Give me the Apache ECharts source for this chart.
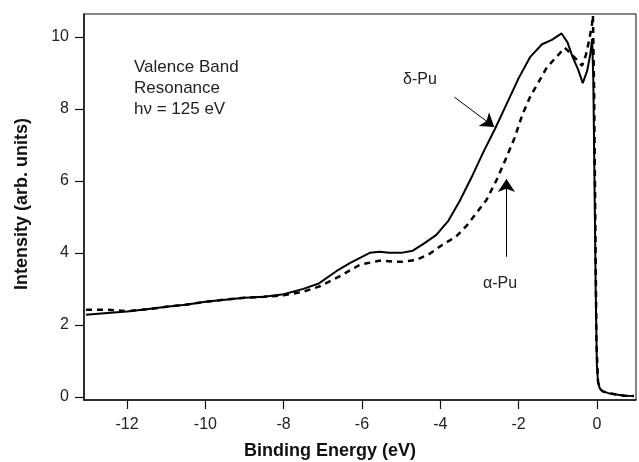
<!DOCTYPE html>
<html>
<head>
<meta charset="utf-8">
<script src="https://cdn.jsdelivr.net/npm/echarts@6/dist/echarts.min.js"></script>
<style>
  html, body { margin: 0; padding: 0; background: #fff; }
  #chart { width: 639px; height: 462px; }
</style>
</head>
<body>
<div id="chart"></div>
<script>
  // 能量 (eV) 和 强度 (arb. units)
  var deltaE = [-13.05, -12.5, -12, -11.5, -11, -10.5, -10, -9.5, -9, -8.5, -8, -7.5, -7.1, -6.6, -6.3, -6.0, -5.8, -5.55, -5.3, -5.0, -4.7, -4.4, -4.1, -3.8, -3.5, -3.2, -2.9, -2.6, -2.3, -2.0, -1.7, -1.4, -1.15, -0.9, -0.75, -0.62, -0.48, -0.36, -0.25, -0.17, -0.12, -0.09, -0.06, -0.03, 0.0, 0.03, 0.08, 0.15, 0.3, 0.5, 0.7, 0.95];
  var deltaI = [2.28, 2.33, 2.37, 2.43, 2.5, 2.56, 2.64, 2.7, 2.75, 2.78, 2.85, 3.0, 3.15, 3.53, 3.72, 3.89, 4.0, 4.03, 4.0, 4.0, 4.06, 4.27, 4.5, 4.88, 5.45, 6.1, 6.8, 7.45, 8.15, 8.85, 9.45, 9.8, 9.92, 10.1, 9.85, 9.45, 9.1, 8.72, 9.05, 9.5, 9.95, 8.8, 6.0, 3.0, 0.9, 0.4, 0.22, 0.15, 0.1, 0.06, 0.03, 0.02];

  var alphaE = [-13.05, -12.5, -12, -11.5, -11, -10.5, -10, -9.5, -9, -8.5, -8, -7.5, -7.1, -6.6, -6.05, -5.56, -5.0, -4.62, -4.28, -3.95, -3.6, -3.33, -3.08, -2.82, -2.56, -2.31, -2.1, -1.9, -1.7, -1.46, -1.28, -1.03, -0.82, -0.67, -0.5, -0.38, -0.28, -0.2, -0.13, -0.1, -0.07, -0.04, -0.01, 0.03, 0.08, 0.15, 0.3, 0.5, 0.7, 0.95];
  var alphaI = [2.42, 2.42, 2.38, 2.43, 2.5, 2.56, 2.64, 2.7, 2.75, 2.78, 2.82, 2.92, 3.06, 3.33, 3.67, 3.78, 3.75, 3.8, 3.97, 4.22, 4.45, 4.75, 5.1, 5.47, 6.03, 6.65, 7.2, 7.85, 8.35, 8.8, 9.15, 9.45, 9.7, 9.55, 9.35, 9.2, 9.5, 9.9, 10.3, 10.6, 8.5, 5.0, 1.5, 0.42, 0.22, 0.15, 0.1, 0.06, 0.03, 0.02];

  var xTicks = [-12, -10, -8, -6, -4, -2, 0];
  var yTicks = [0, 2, 4, 6, 8, 10];

  // 箭头 (数据坐标)
  var deltaArrow = [[-3.64, 8.33], [-2.62, 7.5]];
  var alphaArrow = [[-2.31, 3.89], [-2.31, 6.05]];

  function pairs(xs, ys) {
    return xs.map(function (x, i) { return [x, ys[i]]; });
  }

  var font = '"Liberation Sans", Arial, Helvetica, sans-serif';
  var myChart = echarts.init(document.getElementById('chart'));

  var option = {
    backgroundColor: '#fff',
    animation: false,
    grid: {
      left: 84, right: 3, top: 14, bottom: 62,
      show: true, borderColor: '#111', borderWidth: 1
    },
    xAxis: {
      type: 'value',
      min: -13.1,
      max: 1.0,
      axisLine: { show: true, onZero: false, lineStyle: { color: '#111', width: 1.5 } },
      axisTick: { show: true, inside: false, length: 9, customValues: xTicks, lineStyle: { color: '#111', width: 1.2 } },
      axisLabel: { customValues: xTicks, fontSize: 16, color: '#222', fontFamily: font, margin: 17 },
      splitLine: { show: false }
    },
    yAxis: {
      type: 'value',
      min: -0.09,
      max: 10.64,
      axisLine: { show: true, onZero: false, lineStyle: { color: '#111', width: 1.5 } },
      axisTick: { show: true, inside: false, length: 9, customValues: yTicks, lineStyle: { color: '#111', width: 1.2 } },
      axisLabel: { customValues: yTicks, fontSize: 16, color: '#222', fontFamily: font, margin: 15 },
      splitLine: { show: false }
    },
    series: [
      {
        name: 'δ-Pu',
        type: 'line',
        data: pairs(deltaE, deltaI),
        showSymbol: false,
        clip: true,
        lineStyle: { color: '#000', width: 2 },
        markLine: {
          silent: true,
          symbol: ['none', 'arrow'],
          symbolSize: 13,
          label: { show: false },
          lineStyle: { color: '#000', width: 1, type: 'solid' },
          data: [
            [{ coord: deltaArrow[0] }, { coord: deltaArrow[1] }],
            [{ coord: alphaArrow[0] }, { coord: alphaArrow[1] }]
          ]
        }
      },
      {
        name: 'α-Pu',
        type: 'line',
        data: pairs(alphaE, alphaI),
        showSymbol: false,
        clip: true,
        lineStyle: { color: '#000', width: 2.5, type: [6, 5] }
      }
    ],
    graphic: [
      {
        type: 'text', left: 134, top: 57,
        style: { text: 'Valence Band\nResonance\nhν = 125 eV', font: '17px ' + font, lineHeight: 21, fill: '#222' }
      },
      {
        type: 'text', left: 403, top: 72,
        style: { text: 'δ-Pu', font: '16px ' + font, fill: '#222' }
      },
      {
        type: 'text', left: 483, top: 276,
        style: { text: 'α-Pu', font: '16px ' + font, fill: '#222' }
      },
      {
        type: 'text', x: 330, y: 451,
        style: { text: 'Binding Energy (eV)', font: 'bold 18px ' + font, fill: '#111', align: 'center', verticalAlign: 'middle' }
      },
      {
        type: 'text', x: 22, y: 204, rotation: Math.PI / 2,
        style: { text: 'Intensity (arb. units)', font: 'bold 18px ' + font, fill: '#111', align: 'center', verticalAlign: 'middle' }
      }
    ]
  };

  option && myChart.setOption(option);
</script>
</body>
</html>
